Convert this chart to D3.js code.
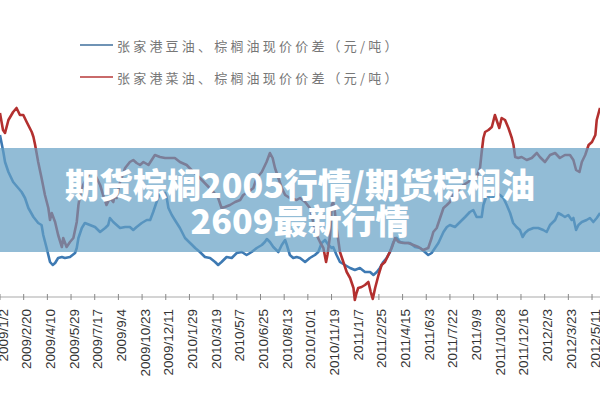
<!DOCTYPE html>
<html><head><meta charset="utf-8">
<script src="https://cdn.jsdelivr.net/npm/d3@7"></script>
<style>html,body{margin:0;padding:0;background:#fff;}svg{display:block;}</style>
</head><body>
<svg id="c" width="600" height="400"></svg>
<script>
// Series labels
const seriesNames = ["张家港豆油、棕榈油现价价差（元/吨）", "张家港菜油、棕榈油现价价差（元/吨）"];
// x-axis tick labels (every 7 weeks from 2009/1/2)
const tickLabels = ["2009/1/2","2009/2/20","2009/4/10","2009/5/29","2009/7/17","2009/9/4","2009/10/23","2009/12/11","2010/1/29","2010/3/19","2010/5/7","2010/6/25","2010/8/13","2010/10/1","2010/11/19","2011/1/7","2011/2/25","2011/4/15","2011/6/3","2011/7/22","2011/9/9","2011/10/28","2011/12/16","2012/2/3","2012/3/23","2012/5/11"];
// [week since 2009/1/2, spread yuan/ton] — soybean oil vs palm oil
const soyPalm = [[-0.9,1620],[0.1,1450],[0.6,1350],[1.6,1250],[3.0,1150],[4.5,1090],[5.5,1050],[6.5,990],[7.5,890],[9.0,800],[10.4,740],[11.4,720],[11.9,620],[12.9,490],[13.9,350],[14.7,320],[15.4,340],[16.3,390],[17.4,400],[18.3,390],[19.8,400],[21.3,440],[21.8,490],[22.3,590],[23.3,690],[24.2,740],[25.7,720],[27.2,700],[28.7,650],[30.2,690],[31.1,720],[31.6,790],[32.6,750],[33.6,720],[34.6,690],[36.1,700],[37.5,700],[38.5,670],[39.5,700],[41.0,740],[42.5,770],[43.5,770],[44.4,850],[45.4,950],[46.4,1040],[47.4,1020],[47.9,1040],[48.4,990],[48.9,890],[49.9,820],[50.8,770],[52.3,690],[53.8,590],[55.3,540],[56.8,490],[58.2,450],[59.7,400],[61.2,390],[62.7,350],[63.6,320],[64.6,350],[66.1,400],[67.6,390],[69.1,440],[70.6,450],[72.0,420],[73.5,450],[75.0,490],[76.5,520],[77.4,550],[78.0,580],[78.9,550],[79.9,500],[81.4,450],[82.4,520],[83.4,570],[83.9,520],[84.8,420],[85.8,390],[86.8,400],[87.8,390],[89.3,350],[90.7,390],[92.2,420],[93.2,450],[94.2,540],[95.2,570],[96.2,520],[97.2,490],[97.6,500],[98.6,420],[99.6,350],[101.1,320],[102.6,290],[104.0,270],[105.5,290],[107.0,250],[108.5,250],[109.5,220],[110.5,250],[111.4,290],[112.4,350],[113.4,390],[114.4,450],[115.4,550],[116.4,590],[117.4,550],[118.8,540],[120.3,540],[121.8,500],[123.3,490],[124.7,450],[125.7,420],[126.7,440],[127.7,490],[128.7,540],[130.2,650],[131.2,700],[132.1,720],[133.6,700],[135.1,750],[136.6,800],[138.0,850],[139.0,870],[140.0,800],[141.5,800],[142.0,920],[143.0,1020],[144.0,990],[144.9,1000],[145.9,1040],[146.9,1020],[147.9,990],[148.9,920],[149.9,840],[150.8,740],[151.8,700],[152.8,670],[153.6,600],[154.3,640],[155.3,670],[156.8,690],[158.2,690],[159.7,670],[160.7,650],[161.7,720],[163.2,770],[164.1,840],[165.2,820],[166.1,800],[167.1,820],[168.1,770],[168.6,790],[169.4,670],[170.1,720],[171.1,750],[172.5,770],[173.5,790],[174.5,750],[175.5,790],[176.5,840]];
// [week since 2009/1/2, spread yuan/ton] — rapeseed oil vs palm oil
const rapePalm = [[-0.9,1840],[0.0,1670],[0.6,1640],[1.6,1770],[3.0,1850],[4.0,1890],[5.0,1820],[6.0,1820],[7.0,1750],[8.5,1650],[9.0,1600],[9.5,1520],[10.4,1350],[11.4,1190],[12.4,1020],[13.4,890],[13.9,770],[14.4,840],[15.4,750],[16.3,620],[17.4,500],[17.8,590],[18.8,500],[19.8,550],[20.8,590],[21.8,750],[22.3,920],[22.8,1020],[23.7,1120],[24.7,1190],[25.7,1240],[26.7,1250],[27.7,1190],[28.7,1120],[29.6,1020],[30.6,920],[31.6,990],[32.6,950],[33.1,1020],[33.6,990],[34.6,1150],[36.1,1290],[37.5,1350],[38.5,1370],[39.5,1340],[40.5,1320],[41.5,1350],[43.0,1320],[44.9,1420],[46.4,1400],[47.9,1390],[49.4,1390],[50.8,1390],[52.3,1350],[54.3,1320],[56.3,1250],[58.2,1190],[60.2,1120],[62.2,1050],[63.6,990],[64.6,890],[65.6,900],[67.1,920],[68.6,950],[70.1,970],[71.0,1020],[72.5,1050],[74.0,1090],[75.0,1190],[76.5,1250],[77.9,1350],[78.9,1440],[79.7,1390],[80.4,1290],[81.4,1190],[82.4,1090],[83.4,1020],[84.8,990],[86.8,970],[87.8,990],[89.3,950],[90.7,890],[91.7,750],[92.7,620],[93.7,550],[94.7,490],[95.5,350],[95.9,420],[96.7,620],[97.2,920],[97.6,950],[98.1,850],[98.6,690],[99.6,450],[100.6,350],[101.6,250],[102.6,190],[103.6,90],[104.0,-30],[104.5,40],[105.0,90],[106.0,100],[107.0,120],[108.0,150],[108.7,50],[109.3,-20],[110.0,90],[111.0,220],[111.9,320],[112.9,350],[113.9,420],[114.9,490],[115.9,590],[116.9,550],[118.3,540],[119.8,540],[121.3,520],[122.8,500],[124.2,470],[125.7,490],[126.7,590],[127.2,650],[128.2,690],[129.2,790],[130.2,890],[131.2,920],[132.1,950],[133.1,1020],[134.6,1070],[136.1,1120],[137.5,1150],[139.0,1190],[140.0,1200],[141.0,1290],[141.5,1450],[142.0,1590],[142.5,1650],[143.5,1670],[144.5,1700],[145.4,1820],[145.9,1770],[146.7,1690],[147.4,1790],[148.4,1770],[149.4,1690],[150.4,1590],[150.9,1520],[151.4,1400],[152.3,1390],[153.3,1400],[154.8,1370],[156.3,1390],[157.8,1440],[158.7,1400],[160.2,1350],[161.7,1420],[163.2,1440],[164.6,1390],[166.1,1420],[167.6,1420],[168.6,1370],[169.4,1270],[170.4,1250],[171.1,1350],[172.1,1420],[173.1,1520],[174.1,1550],[175.1,1620],[175.5,1770],[176.3,1870],[176.5,1890]];
const overlayLines = ["期货棕榈2005行情/期货棕榈油", "2609最新行情"];

const colors = ["#3e7ab3", "#b3302f"];
const svg = d3.select("#c");
const W = 600, H = 400;

const x = d3.scaleLinear().domain([-0.887, 176.47]).range([0, W]);
const y = d3.scaleLinear().domain([0, 2000]).range([297, 97]);

// legend
const legend = svg.append("g");
seriesNames.forEach((n, i) => {
  const ly = 45 + i * 32;
  legend.append("line").attr("x1", 80).attr("x2", 113).attr("y1", ly).attr("y2", ly)
    .attr("stroke", i === 0 ? "#6f93b5" : "#c96a6a").attr("stroke-width", 2);
  legend.append("text").attr("x", 117).attr("y", ly).attr("dominant-baseline", "central")
    .attr("font-family", "Noto Sans CJK SC").attr("font-size", 13).attr("letter-spacing", 3.2)
    .attr("fill", "#777").text(n);
});

// axis
const tickWeeks = tickLabels.map((d, i) => i * 7);
const axis = svg.append("g");
axis.append("line").attr("x1", 0).attr("x2", W).attr("y1", 297).attr("y2", 297)
  .attr("stroke", "#aaa").attr("stroke-width", 1.2);
tickWeeks.forEach((w, i) => {
  const tx = x(w) - 3;
  axis.append("line").attr("x1", tx).attr("x2", tx).attr("y1", 294).attr("y2", 300)
    .attr("stroke", "#888").attr("stroke-width", 1);
  axis.append("text").attr("transform", `translate(${x(w)},309) rotate(-90)`)
    .attr("text-anchor", "end").attr("dominant-baseline", "central")
    .attr("font-family", "Liberation Sans").attr("font-size", 13.5).attr("fill", "#333")
    .text(tickLabels[i]);
});

// lines
const line = d3.line().x(d => x(d[0])).y(d => y(d[1])).curve(d3.curveLinear);
[soyPalm, rapePalm].forEach((s, i) => {
  svg.append("path").datum(s).attr("d", line).attr("fill", "none")
    .attr("stroke", colors[i]).attr("stroke-width", 2.6).attr("stroke-linejoin", "round");
});

// overlay band
svg.append("rect").attr("x", 0).attr("y", 148).attr("width", W).attr("height", 104)
  .attr("fill", "rgb(100,160,196)").attr("fill-opacity", 0.7);
overlayLines.forEach((t, i) => {
  svg.append("text").attr("x", 300).attr("y", 183 + i * 36).attr("text-anchor", "middle")
    .attr("dominant-baseline", "central").attr("font-family", "Noto Sans CJK SC")
    .attr("font-weight", 900).attr("font-size", 34).attr("fill", "#fff").text(t);
});
</script>
</body></html>
